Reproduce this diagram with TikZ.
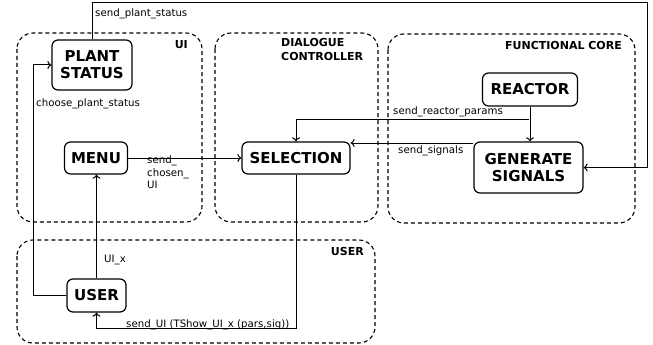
\documentclass[tikz,border=0pt]{standalone}
\usepackage{fontspec}
\setmainfont{DejaVu Sans}
\usetikzlibrary{calc,arrows.meta}
\begin{document}
\begin{tikzpicture}[x=1pt,y=-1pt,
 box/.style={draw, rounded corners=6pt, line width=1.2pt, font=\fontsize{15}{17}\selectfont\bfseries, align=center, inner sep=0pt},
 group/.style={draw, dash pattern=on 4pt off 3pt, rounded corners=16pt, line width=1.1pt},
 glabel/.style={font=\fontsize{11}{14}\selectfont\bfseries, inner sep=0pt, align=left},
 elabel/.style={font=\fontsize{10.2}{12.5}\selectfont, inner sep=0pt, anchor=west, align=left},
 conn/.style={line width=1pt, -{To[length=4pt,width=8pt]}}
]
\useasboundingbox (0,0) rectangle (653,345);
% groups
\draw[group] (17,33) rectangle (202,222);
\draw[group] (215,33) rectangle (378,222);
\draw[group] (388,34) rectangle (635,223);
\draw[group] (17,240) rectangle (375,343);
\node[glabel, anchor=east] (gui) at (188,45) {UI};
\node[glabel, anchor=north west] (gdc) at (281,38) {DIALOGUE\\CONTROLLER};
\node[glabel, anchor=east] (gfc) at (622,45) {FUNCTIONAL CORE};
\node[glabel, anchor=east] (gus) at (364,251) {USER};
% nodes
\node[box, minimum width=80pt, minimum height=50pt] (plant) at (92,65) {PLANT\\STATUS};
\node[box, minimum width=63pt, minimum height=32pt] (menu) at (96,158) {MENU};
\node[box, minimum width=108pt, minimum height=32pt] (sel) at (296,158) {SELECTION};
\node[box, minimum width=95pt, minimum height=33pt] (reactor) at (530,89.5) {REACTOR};
\node[box, minimum width=109pt, minimum height=51pt] (gen) at (528.5,167.5) {GENERATE\\SIGNALS};
\node[box, minimum width=59pt, minimum height=33pt] (user) at (96.5,295.5) {USER};
% coordinates
\coordinate (tl) at (92,3);
\coordinate (tr) at (647,3);
\coordinate (ul) at (33,295.5);
\coordinate (bl) at (296,328);
\coordinate (rj) at (529,119);
% connectors
\draw[conn] (plant.north) -- (tl) -- (tr) |- (gen.east);
\draw[conn] (user.west) -- (ul) |- (plant.west);
\draw[conn] (user.north) -- (user.north |- menu.south);
\draw[conn] (menu.east) -- (sel.west);
\draw[conn] (reactor.south) -- (reactor.south |- gen.north);
\draw[conn] (rj) -| (sel.north);
\draw[conn] ([yshift=24.5pt]gen.west) -- ([yshift=24.5pt]gen.west -| sel.east);
\draw[conn] (sel.south) -- (bl) -| (user.south);
% labels
\node[elabel] (l1) at (95,14) {send\_plant\_status};
\node[elabel] (l2) at (36,104) {choose\_plant\_status};
\node[elabel] (l3) at (104,260) {UI\_x};
\node[elabel, anchor=north west] (l4) at (147,156) {send\_\\chosen\_\\UI};
\node[elabel] (l5) at (393,112) {send\_reactor\_params};
\node[elabel] (l6) at (398,151) {send\_signals};
\node[elabel] (l7) at (126,325) {send\_UI (TShow\_UI\_x (pars,sig))};
\end{tikzpicture}
\end{document}
